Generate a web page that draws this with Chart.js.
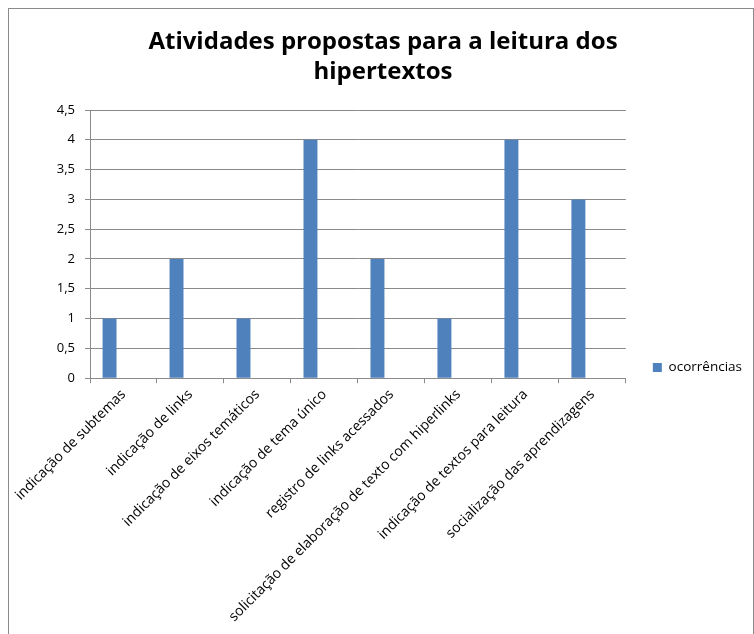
<!DOCTYPE html>
<html>
<head>
<meta charset="utf-8">
<script src="https://cdn.jsdelivr.net/npm/chart.js@4/dist/chart.umd.min.js"></script>
<style>
  html, body { margin: 0; padding: 0; background: #fff; }
  #frame {
    position: absolute; left: 8px; top: 8px; width: 744px; height: 640px;
    border-top: 1px solid #8a8a8a; border-left: 1px solid #8a8a8a; border-right: 1px solid #8a8a8a;
  }
  #wrap { position: absolute; left: 9px; top: 9px; width: 743px; height: 625px; }
</style>
</head>
<body>
<div id="frame"></div>
<div id="wrap"><canvas id="chart"></canvas></div>
<script>
const categories = [
  "indicação de subtemas",
  "indicação de links",
  "indicação de eixos temáticos",
  "indicação de tema único",
  "registro de links acessados",
  "solicitação de elaboração de texto com hiperlinks",
  "indicação de textos para leitura",
  "socialização das aprendizagens"
];
const ocorrencias = [1, 2, 1, 4, 2, 1, 4, 3];
// the sheet had two more (empty) series that still take room in each group
const emptySeries = [];
const yTickLabels = ["0", "0,5", "1", "1,5", "2", "2,5", "3", "3,5", "4", "4,5"];

const ctx = document.getElementById("chart");
new Chart(ctx, {
  type: "bar",
  data: {
    labels: categories,
    datasets: [
      { label: "ocorrências", data: ocorrencias, backgroundColor: "#4F81BD" },
      { label: "", data: emptySeries },
      { label: "", data: emptySeries }
    ]
  },
  options: {
    responsive: true,
    maintainAspectRatio: false,
    animation: false,
    datasets: { bar: { barPercentage: 1, categoryPercentage: 0.625 } },
    layout: { padding: { left: 5, right: 0, top: 0, bottom: 6 } },
    plugins: {
      title: {
        display: true,
        text: ["Atividades propostas para a leitura dos", "hipertextos"],
        color: "#000",
        font: { family: "Open Sans", size: 24, weight: "bold", lineHeight: 1.25 },
        padding: { top: 18, bottom: 23 }
      },
      legend: {
        position: "right",
        align: "end",
        fullSize: false,
        labels: {
          boxWidth: 9, boxHeight: 9, padding: 4, color: "#000",
          font: { family: "Open Sans", size: 13.5 },
          filter: item => item.datasetIndex === 0
        }
      },
      tooltip: { enabled: false }
    },
    scales: {
      x: {
        grid: { display: true, drawOnChartArea: false, offset: true, tickLength: 5, color: "#8a8a8a" },
        border: { color: "#8a8a8a" },
        ticks: {
          autoSkip: false, maxRotation: 45, minRotation: 45, color: "#000",
          font: { family: "Open Sans", size: 14 }
        },
        // long first label may hang over the left edge, as in the sheet
        afterFit: s => { s.paddingLeft = 0; }
      },
      y: {
        min: 0, max: 4.5,
        grid: { color: "#8a8a8a", tickLength: 5 },
        border: { color: "#8a8a8a" },
        ticks: {
          stepSize: 0.5, color: "#000", padding: 10,
          font: { family: "Open Sans", size: 13 },
          callback: (v, i) => yTickLabels[i]
        },
        afterFit: s => { s.width = 76; }
      },
      gap: {
        type: "linear",
        position: "right",
        grid: { display: false },
        border: { display: false },
        ticks: { display: false },
        afterFit: s => { s.width = 23; }
      }
    }
  }
});
</script>
</body>
</html>
